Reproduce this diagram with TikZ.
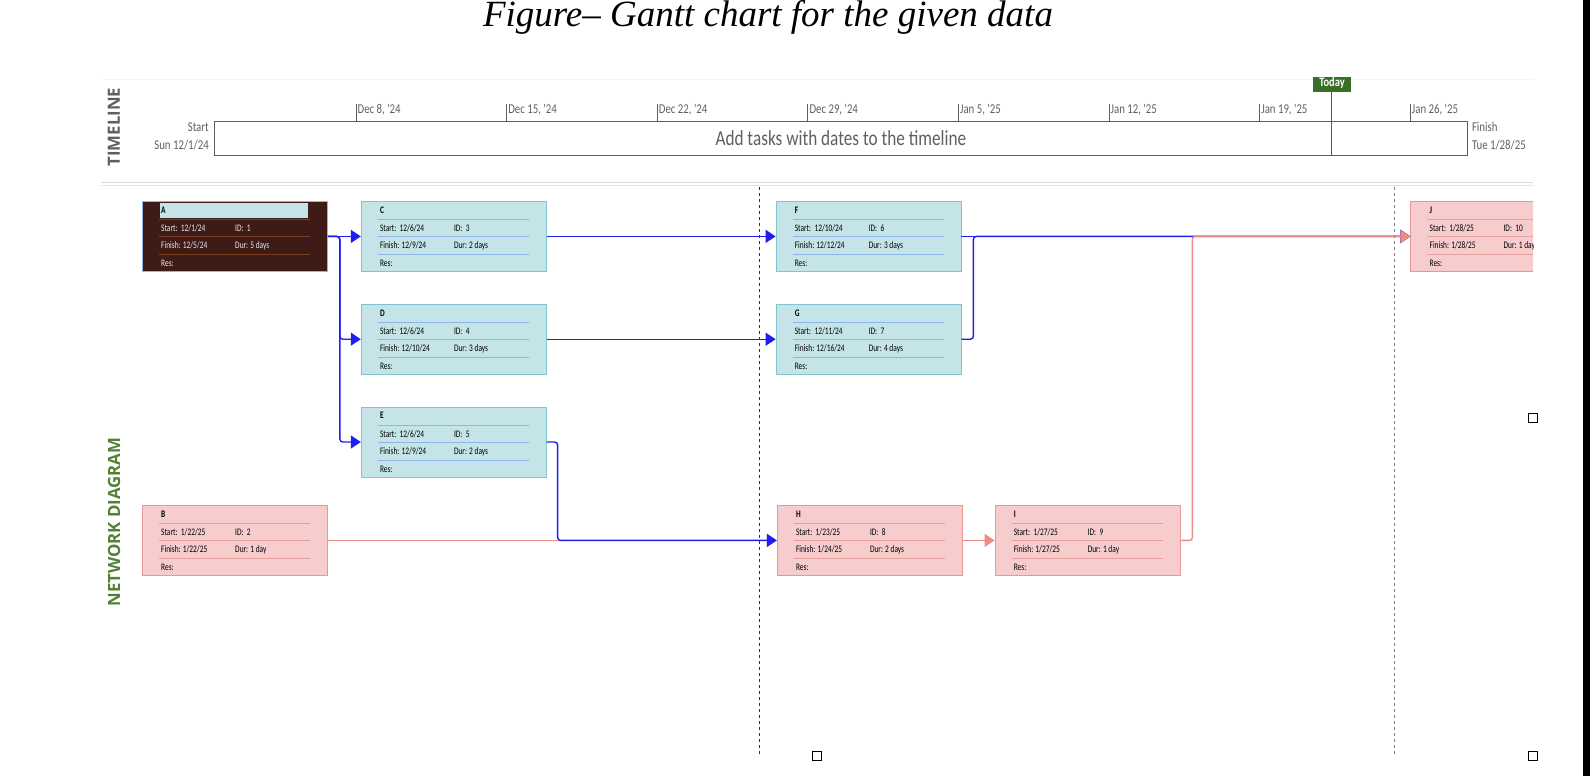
\documentclass[tikz,border=0pt]{standalone}
\usepackage{fontspec}
\usetikzlibrary{arrows.meta,positioning}
\setmainfont{Liberation Serif}
\newfontfamily\uifont[FakeStretch=0.74]{Carlito}
\newfontfamily\tlfont[FakeStretch=0.8]{Carlito}
\newfontfamily\capsfont{Open Sans}
\definecolor{taskfill}{RGB}{197,228,232}
\definecolor{taskline}{RGB}{128,196,208}
\definecolor{taskrule}{RGB}{143,181,230}
\definecolor{critfill}{RGB}{246,204,204}
\definecolor{critline}{RGB}{236,150,146}
\definecolor{critrule}{RGB}{232,160,158}
\definecolor{donefill}{RGB}{62,27,23}
\definecolor{donerule}{RGB}{124,62,30}
\definecolor{linkblue}{RGB}{30,30,240}
\definecolor{linkred}{RGB}{236,140,132}
\definecolor{tlgray}{RGB}{95,95,95}
\definecolor{ndgreen}{RGB}{84,130,53}
\definecolor{todaygreen}{RGB}{56,110,40}

% rows, rules and texts of one task box
\newcommand{\taskinfo}[7]{%
  \foreach \yy in {18.3,35.7,53.3}
    \draw[#2, line width=.8pt] ([shift={(17,\yy)}]#1.north west) -- ([shift={(168,\yy)}]#1.north west);
  \node[cell] (#1-name) at ([shift={(19,12.2)}]#1.north west) {\bfseries #3};
  \node[cell] (#1-start) at ([shift={(19,30.5)}]#1.north west) {Start:\ \ #4};
  \node[cell] (#1-id) at ([shift={(93,30.5)}]#1.north west) {ID:\ \ #5};
  \node[cell] (#1-fin) at ([shift={(19,47.9)}]#1.north west) {Finish: #6};
  \node[cell] (#1-dur) at ([shift={(93,47.9)}]#1.north west) {Dur: #7};
  \node[cell] (#1-res) at ([shift={(19,65.5)}]#1.north west) {Res:};
}

\begin{document}
\begin{tikzpicture}[x=1pt, y=-1pt, node distance=32pt, every node/.style={inner sep=0pt},
  task/.style={rectangle,draw=taskline,fill=taskfill,line width=.8pt,minimum width=185pt,minimum height=70pt},
  crit/.style={task,draw=critline,fill=critfill},
  done/.style={task,draw=taskrule,fill=donefill},
  cell/.style={anchor=base west,font=\uifont\fontsize{10}{12}\selectfont},
  tl/.style={font=\tlfont\fontsize{13.5}{18}\selectfont,text=tlgray},
  side/.style={rotate=90,font=\capsfont\bfseries\fontsize{16.8}{18}\selectfont},
  link/.style={-{Triangle[length=10pt,width=13pt]},line width=1.4pt,draw=linkblue,rounded corners=3pt},
  critlink/.style={link,draw=linkred},
  handle/.style={draw,fill=white,line width=.7pt,minimum size=9pt}]
  \useasboundingbox (0,0) rectangle (1590,776);

  \node[anchor=base,font=\itshape\fontsize{37}{40}\selectfont] (title) at (768,26.5) {Figure– Gantt chart for the given data};

  % timeline
  \draw[gray!8] (101,79) -- (1533,79);
  \node[side,text=tlgray] (tlname) at (114,127) {TIMELINE};
  \node[draw=tlgray,line width=.8pt,minimum width=1253pt,minimum height=34pt,anchor=north west,
    font=\tlfont\fontsize{21.5}{24}\selectfont,text=tlgray] (bar) at (214,121) {Add tasks with dates to the timeline};
  \node[tl,anchor=east,align=right] (start) at ([shift={(-5,-2)}]bar.west) {Start\\Sun 12/1/24};
  \node[tl,anchor=west,align=left] (finish) at ([shift={(4,-2)}]bar.east) {Finish\\Tue 1/28/25};
  \foreach \lbl [count=\i from 0] in {{Dec 8, '24},{Dec 15, '24},{Dec 22, '24},{Dec 29, '24},{Jan 5, '25},{Jan 12, '25},{Jan 19, '25},{Jan 26, '25}} {
    \draw[tlgray,line width=.8pt] (356+150.6*\i,104) -- (356+150.6*\i,121);
    \node[tl,anchor=base west] (tick\i) at (357.5+150.6*\i,113) {\lbl};
  }
  \draw[todaygreen,line width=.8pt] (1331,91) -- (1331,155);
  \begin{scope}
    \clip (1300,78) rectangle (1365,100);
    \node[fill=todaygreen,text=white,minimum width=38pt,minimum height=18pt,
      font=\tlfont\bfseries\fontsize{13}{14}\selectfont] (today) at (1332,83) {Today};
  \end{scope}
  \draw[gray!30,line width=1pt] (101,182.5) -- (1533,182.5);
  \draw[gray!20,line width=1pt] (101,185.6) -- (1533,185.6);

  % network diagram
  \node[side,text=ndgreen] (ndname) at (114,522) {NETWORK DIAGRAM};
  \draw[black!80,dash pattern=on 3pt off 3pt,line width=.9pt] (759,187) -- (759,755);
  \draw[gray,dash pattern=on 3pt off 3pt,line width=.9pt] (1394,187) -- (1394,755);

  \node[done,anchor=north west] (A) at (142,201) {};
  \fill[taskfill] ([shift={(18,1.7)}]A.north west) rectangle ([shift={(166,17.3)}]A.north west);
  \begin{scope}[cell/.append style={text=white!92!black}]
    \taskinfo{A}{donerule}{\color{black}A}{12/1/24}{1}{12/5/24}{5 days}
  \end{scope}
  \node[task,right=33pt of A] (C) {};
  \taskinfo{C}{taskrule}{C}{12/6/24}{3}{12/9/24}{2 days}
  \node[task,below=of C] (D) {};
  \taskinfo{D}{taskrule}{D}{12/6/24}{4}{12/10/24}{3 days}
  \node[task,below=of D] (E) {};
  \taskinfo{E}{taskrule}{E}{12/6/24}{5}{12/9/24}{2 days}
  \node[crit,anchor=north west] (B) at (142,505) {};
  \taskinfo{B}{critrule}{B}{1/22/25}{2}{1/22/25}{1 day}
  \node[task,right=229pt of C] (F) {};
  \taskinfo{F}{taskrule}{F}{12/10/24}{6}{12/12/24}{3 days}
  \node[task,below=of F] (G) {};
  \taskinfo{G}{taskrule}{G}{12/11/24}{7}{12/16/24}{4 days}
  \node[crit,right=449pt of B] (H) {};
  \taskinfo{H}{critrule}{H}{1/23/25}{8}{1/24/25}{2 days}
  \node[crit,right=32pt of H] (I) {};
  \taskinfo{I}{critrule}{I}{1/27/25}{9}{1/27/25}{1 day}
  \begin{scope}
    \clip (1400,190) rectangle (1533,280);
    \node[crit,right=449pt of F] (J) {};
    \taskinfo{J}{critrule}{J}{1/28/25}{10}{1/28/25}{1 day}
  \end{scope}

  \draw[link] (A.east) -- (C.west);
  \draw[link] (A.east) -- ++(12,0) |- (D.west);
  \draw[link] (A.east) -- ++(12,0) |- (E.west);
  \draw[link] (C.east) -- (F.west);
  \draw[link] (D.east) -- (G.west);
  \draw[critlink] (B.east) -- (H.west);
  \draw[link] (E.east) -- ++(11,0) |- (H.west);
  \draw[link] (F.east) -- (J.west);
  \draw[link] (G.east) -- ++(12,0) |- (J.west);
  \draw[critlink] (H.east) -- (I.west);
  \draw[critlink] (I.east) -- ++(12,0) |- (J.west);

  \node[handle] (h1) at (817,756) {};
  \node[handle] (h2) at (1533,418) {};
  \node[handle] (h3) at (1533,756) {};
  \fill (1583,0) rectangle (1590,776);
\end{tikzpicture}
\end{document}
